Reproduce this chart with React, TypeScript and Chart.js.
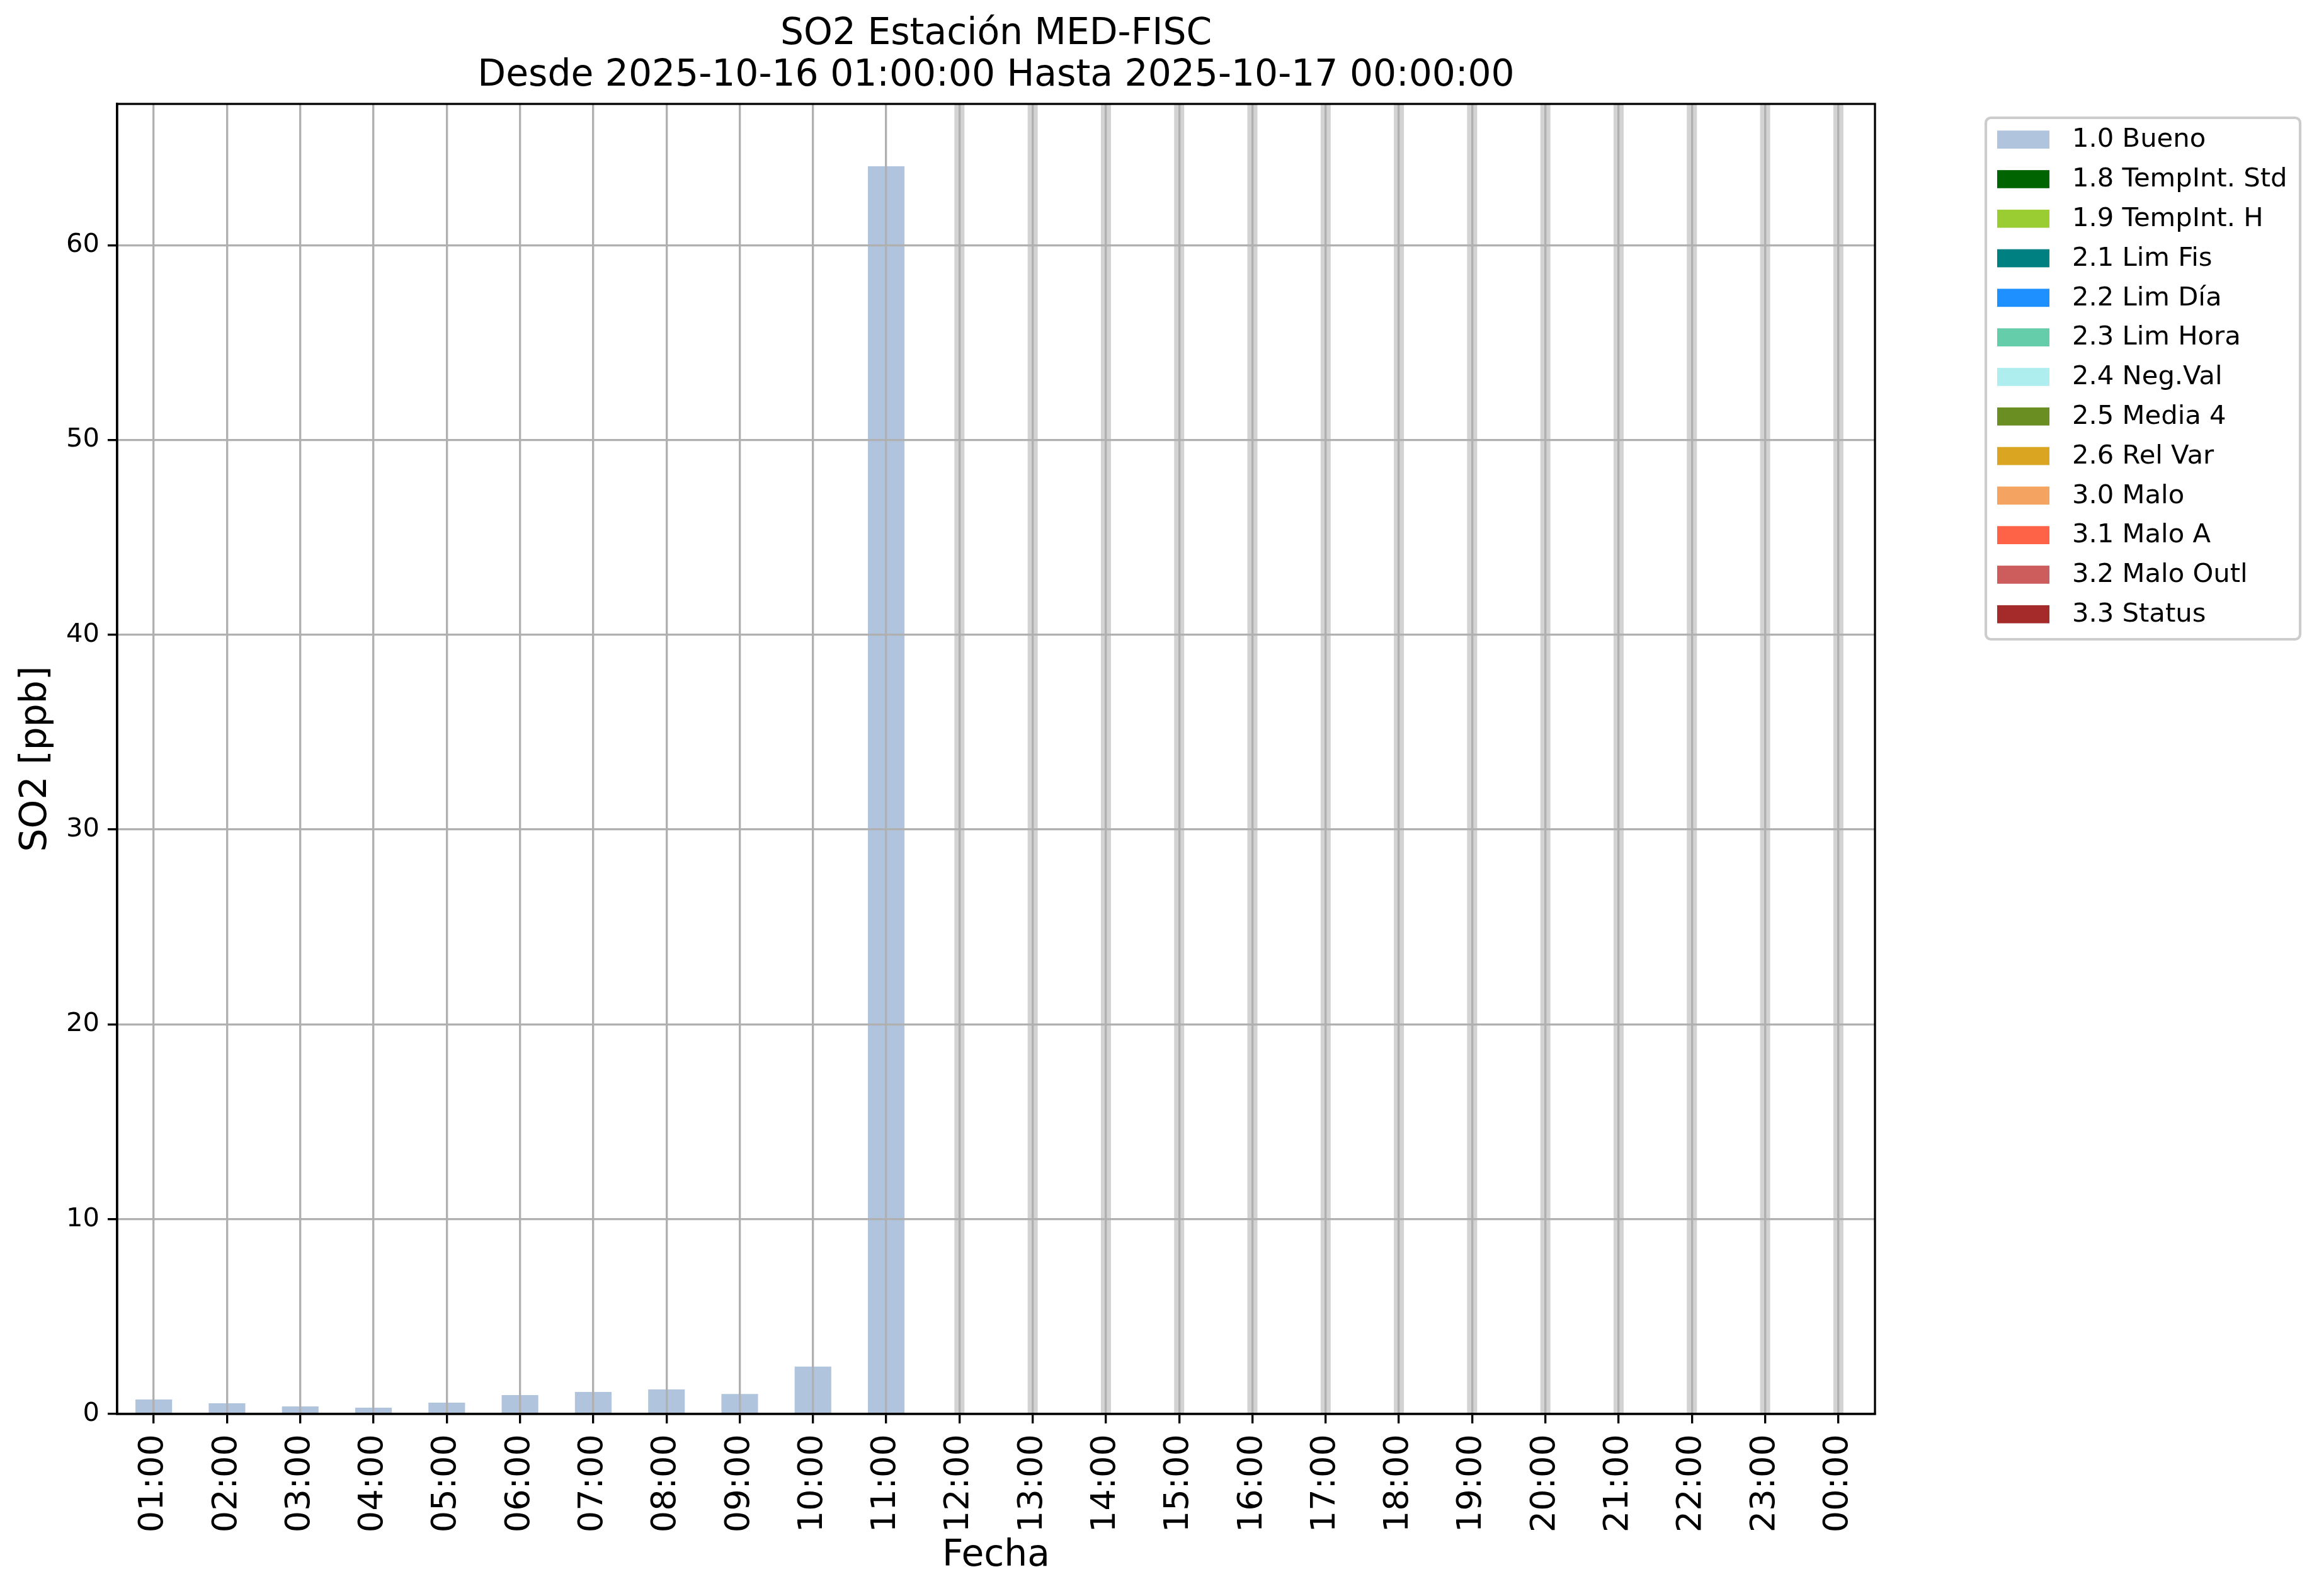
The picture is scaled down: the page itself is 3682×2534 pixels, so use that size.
import { useEffect, useRef } from 'react';
import { Chart, registerables } from 'chart.js';

Chart.register(...registerables);

// ---------------- data ----------------
const HOURS = [
  '01:00', '02:00', '03:00', '04:00', '05:00', '06:00', '07:00', '08:00',
  '09:00', '10:00', '11:00', '12:00', '13:00', '14:00', '15:00', '16:00',
  '17:00', '18:00', '19:00', '20:00', '21:00', '22:00', '23:00', '00:00',
];

// SO2 [ppb] flagged 1.0 Bueno
const SO2_BUENO: (number | null)[] = [
  0.74, 0.55, 0.39, 0.32, 0.58, 0.97, 1.13, 1.26, 1.03, 2.43, 64.05,
  null, null, null, null, null, null, null, null, null, null, null, null, null,
];

// hours with no data (light grey bands)
const MISSING_HOURS = [
  '12:00', '13:00', '14:00', '15:00', '16:00', '17:00', '18:00',
  '19:00', '20:00', '21:00', '22:00', '23:00', '00:00',
];

const FLAG_LABELS = [
  '1.0 Bueno', '1.8 TempInt. Std', '1.9 TempInt. H', '2.1 Lim Fis', '2.2 Lim Día',
  '2.3 Lim Hora', '2.4 Neg.Val', '2.5 Media 4', '2.6 Rel Var', '3.0 Malo',
  '3.1 Malo A', '3.2 Malo Outl', '3.3 Status',
];
const FLAG_COLORS = [
  '#b0c4de', '#006400', '#9acd32', '#008080', '#1e90ff',
  '#66cdaa', '#afeeee', '#6b8e23', '#daa520', '#f4a460',
  '#ff6347', '#cd5c5c', '#a52a2a',
];

const Y_MAX = 67.25;
const Y_TICKS = [0, 10, 20, 30, 40, 50, 60];

const TITLE_LINES = [
  'SO2 Estación MED-FISC',
  'Desde 2025-10-16 01:00:00 Hasta 2025-10-17 00:00:00',
];
const X_LABEL = 'Fecha';
const Y_LABEL = 'SO2 [ppb]';

// ---------------- layout ----------------
const W = 3682;
const H = 2534;
const PLOT_LEFT = 186;
const PLOT_RIGHT = 2977;
const PLOT_BOTTOM = 2245;
const LW = 3.33;
const FONT = 'DejaVu Sans';

const legendPlugin = {
  id: 'mplLegend',
  afterDraw(chart: any) {
    const ctx = chart.ctx as CanvasRenderingContext2D;
    const fx0 = 3153, fy0 = 187, fx1 = 3652, fy1 = 1015, r = 8;
    ctx.save();
    ctx.beginPath();
    ctx.moveTo(fx0 + r, fy0);
    ctx.lineTo(fx1 - r, fy0);
    ctx.arcTo(fx1, fy0, fx1, fy0 + r, r);
    ctx.lineTo(fx1, fy1 - r);
    ctx.arcTo(fx1, fy1, fx1 - r, fy1, r);
    ctx.lineTo(fx0 + r, fy1);
    ctx.arcTo(fx0, fy1, fx0, fy1 - r, r);
    ctx.lineTo(fx0, fy0 + r);
    ctx.arcTo(fx0, fy0, fx0 + r, fy0, r);
    ctx.closePath();
    ctx.fillStyle = 'rgba(255,255,255,0.8)';
    ctx.fill();
    ctx.strokeStyle = '#cccccc';
    ctx.lineWidth = 4.17;
    ctx.stroke();

    const items = chart.data.datasets.filter((d: any) => !d.noLegend);
    const boxLeft = 3171, boxW = 83, boxH = 28.7, firstTop = 207.3, pitch = 62.8, textX = 3290;
    ctx.font = `41.7px "${FONT}"`;
    ctx.textBaseline = 'middle';
    ctx.textAlign = 'left';
    items.forEach((d: any, i: number) => {
      const top = firstTop + i * pitch;
      ctx.fillStyle = d.backgroundColor;
      ctx.fillRect(boxLeft, top, boxW, boxH);
      ctx.fillStyle = '#000';
      ctx.fillText(d.label, textX, top + boxH / 2 + 1);
    });
    ctx.restore();
  },
};

const framePlugin = {
  id: 'axesFrame',
  afterDraw(chart: any) {
    const { left, top, right, bottom } = chart.chartArea;
    const ctx = chart.ctx as CanvasRenderingContext2D;
    ctx.save();
    ctx.strokeStyle = '#000';
    ctx.lineWidth = LW;
    ctx.strokeRect(left, top, right - left, bottom - top);
    ctx.restore();
  },
};

export default function App() {
  const ref = useRef<HTMLCanvasElement | null>(null);

  useEffect(() => {
    document.body.style.margin = '0';
    document.documentElement.style.overflow = 'hidden';
    const canvas = ref.current;
    if (!canvas) return;

    const gapData = HOURS.map((h) => (MISSING_HOURS.includes(h) ? Y_MAX : null));
    const flagSets = FLAG_LABELS.map((label, i) => ({
      label,
      data: i === 0 ? SO2_BUENO : HOURS.map(() => null),
      backgroundColor: FLAG_COLORS[i],
      borderWidth: 0,
      barPercentage: 0.5,
      categoryPercentage: 1.0,
      grouped: false,
    }));

    const chart = new Chart(canvas, {
      type: 'bar',
      data: {
        labels: HOURS,
        datasets: [
          {
            label: 'Sin datos',
            noLegend: true,
            data: gapData,
            backgroundColor: '#d3d3d3',
            borderWidth: 0,
            barPercentage: 0.1376,
            categoryPercentage: 1.0,
            grouped: false,
          } as any,
          ...flagSets,
        ],
      },
      options: {
        responsive: false,
        animation: false,
        devicePixelRatio: 1,
        layout: { padding: { left: 0, top: 0, right: W - PLOT_RIGHT, bottom: 0 } },
        plugins: {
          legend: { display: false },
          tooltip: { enabled: false },
          title: {
            display: true,
            fullSize: false,
            text: TITLE_LINES,
            color: '#000',
            font: { family: FONT, size: 58.3, weight: 'normal', lineHeight: 66 / 58.3 },
            padding: { top: 22, bottom: 11 },
          },
        },
        scales: {
          x: {
            offset: true,
            grid: {
              offset: false,
              color: '#b0b0b0',
              lineWidth: LW,
              tickColor: '#000',
              tickWidth: LW,
              tickLength: 15,
              z: 1,
            },
            border: { color: '#000', width: LW, z: 2 },
            ticks: {
              color: '#000',
              font: { family: FONT, size: 54.2 },
              minRotation: 90,
              maxRotation: 90,
              autoSkip: false,
              padding: 17,
            },
            title: {
              display: true,
              text: X_LABEL,
              color: '#000',
              font: { family: FONT, size: 58.3 },
              padding: { top: 0, bottom: 28 },
            },
            afterFit: (s: any) => {
              s.height = H - PLOT_BOTTOM;
            },
          },
          y: {
            min: 0,
            max: Y_MAX,
            grid: {
              color: '#b0b0b0',
              lineWidth: LW,
              tickColor: '#000',
              tickWidth: LW,
              tickLength: 15,
              z: 1,
            },
            border: { color: '#000', width: LW, z: 2 },
            ticks: {
              color: '#000',
              font: { family: FONT, size: 41.7 },
              padding: 13,
            },
            afterBuildTicks: (s: any) => {
              s.ticks = Y_TICKS.map((v) => ({ value: v }));
            },
            title: {
              display: true,
              text: Y_LABEL,
              color: '#000',
              font: { family: FONT, size: 58.3 },
              padding: { top: 23, bottom: 0 },
            },
            afterFit: (s: any) => {
              s.width = PLOT_LEFT;
            },
          },
        },
      } as any,
      plugins: [framePlugin, legendPlugin],
    });

    return () => chart.destroy();
  }, []);

  return (
    <div style={{ width: W, height: H }}>
      <canvas ref={ref} width={W} height={H} style={{ display: 'block', width: W, height: H }} />
    </div>
  );
}
